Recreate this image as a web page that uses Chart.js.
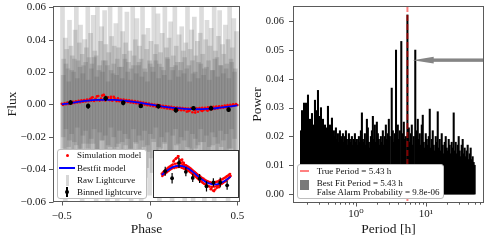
<!DOCTYPE html>
<html><head><meta charset="utf-8">
<script src="https://cdn.jsdelivr.net/npm/chart.js@4.4.1/dist/chart.umd.min.js"></script>
<style>
html,body{margin:0;padding:0;background:#fff;}
#wrap{position:relative;width:488px;height:242px;overflow:hidden;font-family:"Liberation Serif","DejaVu Serif",serif;color:#111;}
canvas{position:absolute;left:0;top:0;}
#boxL{position:absolute;left:0;top:0;width:245px;height:242px;}
#boxR{position:absolute;left:245px;top:0;width:243px;height:242px;}
#inset{position:absolute;left:153px;top:150px;width:84px;height:46px;border:1px solid #333;background:#fff;}
.legend{position:absolute;background:#fff;border:1px solid #bdbdbd;border-radius:3px;font-size:9px;line-height:10px;}
.mk{position:absolute;display:block;}
.tx{position:absolute;white-space:nowrap;}
</style></head>
<body>
<div id="wrap">
  <div id="boxL"><canvas id="cL" width="245" height="242"></canvas></div>
  <div id="boxR"><canvas id="cR" width="243" height="242"></canvas></div>
  <div id="inset"><canvas id="cI" width="84" height="46"></canvas></div>
  <div class="legend" style="left:57px;top:149px;width:88px;height:48px;">
    <span class="mk" style="left:7.5px;top:3.8px;width:3px;height:3px;border-radius:50%;background:#f00"></span>
    <span class="mk" style="left:1px;top:16.7px;width:16px;height:2px;background:#00f"></span>
    <span class="mk" style="left:7.5px;top:24.5px;width:3px;height:11px;background:#d6d6d6"></span>
    <span class="mk" style="left:8.4px;top:36.5px;width:1.3px;height:10px;background:#000"></span>
    <span class="mk" style="left:7px;top:39.7px;width:4px;height:4px;border-radius:50%;background:#000"></span>
    <span class="tx" style="left:19px;top:0.3px">Simulation model</span>
    <span class="tx" style="left:19px;top:12.7px">Bestfit model</span>
    <span class="tx" style="left:19px;top:25px">Raw Lightcurve</span>
    <span class="tx" style="left:19px;top:36.7px">Binned lightcurve</span>
  </div>
  <div class="legend" style="left:297px;top:164px;width:145px;height:33px;">
    <span class="mk" style="left:2px;top:5px;width:9px;height:2px;background:#ff8080"></span>
    <span class="mk" style="left:2px;top:15.3px;width:9px;height:10px;background:#7a7a7a"></span>
    <span class="tx" style="left:18.7px;top:1px">True Period = 5.43 h</span>
    <span class="tx" style="left:18.7px;top:12.7px">Best Fit Period = 5.43 h</span>
    <span class="tx" style="left:18.7px;top:21.7px">False Alarm Probability = 9.8e-06</span>
  </div>
</div>
<script>
// ---------------- data ----------------
const phaseTicks = [-0.5, 0, 0.5];
const phaseTickLabels = ['\u22120.5', '0', '0.5'];
const fluxTicks = [-0.06, -0.04, -0.02, 0, 0.02, 0.04, 0.06];
const fluxTickLabels = ['\u22120.06', '\u22120.04', '\u22120.02', '0.00', '0.02', '0.04', '0.06'];

// raw light curve: error-bar extents (low/high) per phase
const rawPhase = [
-0.496,-0.489,-0.480,-0.472,-0.465,-0.456,-0.448,-0.441,-0.432,-0.424,
-0.417,-0.408,-0.400,-0.393,-0.384,-0.376,-0.369,-0.360,-0.352,-0.345,
-0.336,-0.328,-0.321,-0.312,-0.304,-0.297,-0.288,-0.280,-0.273,-0.264,
-0.256,-0.249,-0.240,-0.232,-0.225,-0.216,-0.208,-0.201,-0.192,-0.184,
-0.177,-0.168,-0.160,-0.153,-0.144,-0.136,-0.129,-0.120,-0.112,-0.105,
-0.096,-0.088,-0.081,-0.072,-0.064,-0.057,-0.048,-0.040,-0.033,-0.024,
-0.016,-0.009,0.000,0.008,0.015,0.024,0.032,0.039,0.048,0.056,
0.063,0.072,0.080,0.087,0.096,0.104,0.111,0.120,0.128,0.135,
0.144,0.152,0.159,0.168,0.176,0.183,0.192,0.200,0.207,0.216,
0.224,0.231,0.240,0.248,0.255,0.264,0.272,0.279,0.288,0.296,
0.303,0.312,0.320,0.327,0.336,0.344,0.351,0.360,0.368,0.375,
0.384,0.392,0.399,0.408,0.416,0.423,0.432,0.440,0.447,0.456,
0.464,0.471,0.480,0.488,0.495];
const rawHigh = [
0.065,0.028,0.041,0.034,0.022,0.052,0.036,0.030,0.020,0.046,
0.065,0.027,0.038,0.049,0.031,0.024,0.040,0.035,0.063,0.029,
0.044,0.025,0.055,0.033,0.030,0.065,0.021,0.039,0.048,0.027,
0.058,0.037,0.024,0.032,0.065,0.042,0.019,0.036,0.050,0.028,
0.035,0.065,0.023,0.045,0.031,0.038,0.057,0.026,0.033,0.022,
0.062,0.030,0.040,0.053,0.024,0.036,0.028,0.065,0.043,0.020,
0.034,0.047,0.027,0.039,0.023,0.065,0.031,0.037,0.056,0.025,
0.032,0.044,0.021,0.065,0.035,0.028,0.041,0.051,0.023,0.030,
0.060,0.036,0.026,0.043,0.021,0.048,0.033,0.029,0.038,0.065,
0.024,0.034,0.046,0.019,0.054,0.030,0.039,0.026,0.044,0.065,
0.031,0.022,0.040,0.052,0.027,0.036,0.047,0.021,0.065,0.033,
0.029,0.042,0.058,0.024,0.037,0.031,0.049,0.025,0.040,0.063,
0.028,0.035,0.053,0.022,0.045];
const rawLow = [
-0.040,-0.027,-0.062,-0.034,-0.047,-0.022,-0.037,-0.058,-0.030,-0.043,
-0.025,-0.052,-0.033,-0.040,-0.065,-0.024,-0.045,-0.031,-0.027,-0.055,
-0.036,-0.048,-0.024,-0.041,-0.063,-0.029,-0.044,-0.034,-0.022,-0.050,
-0.038,-0.028,-0.060,-0.042,-0.026,-0.033,-0.049,-0.030,-0.039,-0.065,
-0.024,-0.045,-0.035,-0.031,-0.054,-0.025,-0.040,-0.047,-0.028,-0.062,
-0.032,-0.043,-0.023,-0.037,-0.051,-0.030,-0.065,-0.034,-0.026,-0.045,
-0.039,-0.029,-0.056,-0.033,-0.042,-0.023,-0.048,-0.036,-0.031,-0.061,
-0.027,-0.044,-0.038,-0.024,-0.052,-0.032,-0.041,-0.028,-0.065,-0.035,
-0.046,-0.025,-0.039,-0.031,-0.055,-0.029,-0.043,-0.060,-0.033,-0.026,
-0.049,-0.037,-0.030,-0.065,-0.040,-0.027,-0.045,-0.034,-0.023,-0.051,
-0.038,-0.062,-0.031,-0.043,-0.028,-0.047,-0.035,-0.025,-0.065,-0.041,
-0.030,-0.046,-0.036,-0.026,-0.057,-0.033,-0.042,-0.029,-0.063,-0.039,
-0.027,-0.050,-0.034,-0.044,-0.030];
// raw points with smaller errors (dense core of the cloud)
const rawCorePhase = [
-0.492,-0.476,-0.460,-0.444,-0.428,-0.412,-0.396,-0.380,-0.364,-0.348,
-0.332,-0.316,-0.300,-0.284,-0.268,-0.252,-0.236,-0.220,-0.204,-0.188,
-0.172,-0.156,-0.140,-0.124,-0.108,-0.092,-0.076,-0.060,-0.044,-0.028,
-0.012,0.004,0.020,0.036,0.052,0.068,0.084,0.100,0.116,0.132,
0.148,0.164,0.180,0.196,0.212,0.228,0.244,0.260,0.276,0.292,
0.308,0.324,0.340,0.356,0.372,0.388,0.404,0.420,0.436,0.452,
0.468,0.484];
const rawCoreHigh = [
0.018,0.025,0.014,0.021,0.028,0.016,0.023,0.019,0.026,0.015,
0.022,0.029,0.017,0.024,0.020,0.027,0.014,0.021,0.025,0.018,
0.023,0.016,0.028,0.020,0.015,0.024,0.019,0.026,0.017,0.022,
0.014,0.025,0.020,0.027,0.016,0.023,0.018,0.029,0.015,0.021,
0.024,0.017,0.026,0.019,0.022,0.014,0.027,0.020,0.016,0.025,
0.018,0.023,0.015,0.021,0.028,0.017,0.024,0.019,0.022,0.016,
0.026,0.020];
const rawCoreLow = [
-0.020,-0.015,-0.026,-0.018,-0.023,-0.014,-0.027,-0.019,-0.016,-0.024,
-0.021,-0.015,-0.028,-0.017,-0.022,-0.019,-0.025,-0.014,-0.020,-0.026,
-0.016,-0.023,-0.018,-0.021,-0.027,-0.015,-0.024,-0.019,-0.022,-0.016,
-0.025,-0.018,-0.021,-0.014,-0.026,-0.020,-0.023,-0.017,-0.028,-0.019,
-0.015,-0.024,-0.020,-0.022,-0.016,-0.027,-0.018,-0.021,-0.025,-0.015,
-0.023,-0.019,-0.026,-0.017,-0.020,-0.024,-0.016,-0.022,-0.018,-0.027,
-0.015,-0.021];

const simPhase = [
-0.500,-0.492,-0.484,-0.476,-0.468,-0.460,-0.452,-0.444,-0.436,-0.428,
-0.420,-0.412,-0.404,-0.396,-0.388,-0.380,-0.372,-0.364,-0.356,-0.348,
-0.340,-0.332,-0.324,-0.316,-0.308,-0.300,-0.292,-0.284,-0.276,-0.268,
-0.260,-0.252,-0.244,-0.236,-0.228,-0.220,-0.212,-0.204,-0.196,-0.188,
-0.180,-0.172,-0.164,-0.156,-0.148,-0.140,-0.132,-0.124,-0.116,-0.108,
-0.100,-0.092,-0.084,-0.076,-0.068,-0.060,-0.052,-0.044,-0.036,-0.028,
-0.020,-0.012,-0.004,0.004,0.012,0.020,0.028,0.036,0.044,0.052,
0.060,0.068,0.076,0.084,0.092,0.100,0.108,0.116,0.124,0.132,
0.140,0.148,0.156,0.164,0.172,0.180,0.188,0.196,0.204,0.212,
0.220,0.228,0.236,0.244,0.252,0.260,0.268,0.276,0.284,0.292,
0.300,0.308,0.316,0.324,0.332,0.340,0.348,0.356,0.364,0.372,
0.380,0.388,0.396,0.404,0.412,0.420,0.428,0.436,0.444,0.452,
0.460,0.468,0.476,0.484,0.492,0.500,
-0.330,-0.300,-0.270,-0.262,-0.220,-0.200,-0.180,0.220,0.260,0.300,0.330];
const simFlux = [
0.0004,-0.0003,0.0008,0.0001,0.0012,0.0003,0.0014,0.0006,0.0017,0.0009,
0.0020,0.0012,0.0023,0.0014,0.0026,0.0017,0.0028,0.0019,0.0030,0.0021,
0.0033,0.0024,0.0045,0.0022,0.0035,0.0026,0.0052,0.0024,0.0036,0.0027,
0.0058,0.0025,0.0037,0.0044,0.0026,0.0036,0.0023,0.0048,0.0031,0.0021,
0.0034,0.0020,0.0031,0.0018,0.0030,0.0017,0.0028,0.0015,0.0026,0.0013,
0.0023,0.0010,0.0021,0.0008,0.0018,0.0005,0.0015,0.0002,0.0012,-0.0001,
0.0009,-0.0004,0.0006,-0.0007,0.0003,-0.0010,0.0000,-0.0013,-0.0002,-0.0016,
-0.0005,-0.0019,-0.0008,-0.0022,-0.0010,-0.0025,-0.0012,-0.0027,-0.0015,-0.0029,
-0.0017,-0.0031,-0.0019,-0.0033,-0.0020,-0.0035,-0.0022,-0.0036,-0.0023,-0.0044,
-0.0025,-0.0037,-0.0024,-0.0048,-0.0023,-0.0036,-0.0024,-0.0045,-0.0022,-0.0035,
-0.0021,-0.0034,-0.0020,-0.0032,-0.0018,-0.0031,-0.0016,-0.0029,-0.0015,-0.0027,
-0.0013,-0.0025,-0.0011,-0.0022,-0.0009,-0.0020,-0.0007,-0.0017,-0.0004,-0.0014,
-0.0002,-0.0010,0.0001,-0.0007,0.0003,-0.0003,
0.0042,0.0050,0.0055,0.0060,0.0047,0.0040,0.0038,-0.0042,-0.0050,-0.0040,-0.0038];

const fitPhase = [-0.5,-0.45,-0.4,-0.35,-0.3,-0.25,-0.2,-0.15,-0.1,-0.05,0,0.05,0.1,0.15,0.2,0.25,0.3,0.35,0.4,0.45,0.5];
const fitFlux = [0.0000,0.0009,0.0017,0.0024,0.0028,0.0029,0.0028,0.0024,0.0018,0.0010,0.0001,-0.0008,-0.0016,-0.0023,-0.0027,-0.0029,-0.0029,-0.0026,-0.0020,-0.0013,-0.0005];

const binPhase = [-0.45,-0.35,-0.25,-0.15,-0.05,0.05,0.15,0.25,0.35,0.45];
const binFlux = [0.0012,-0.0010,0.0038,0.0010,-0.0009,-0.0011,-0.0035,-0.0023,-0.0023,-0.0032];
const binErr = [0.0014,0.0016,0.0016,0.0014,0.0013,0.0014,0.0016,0.0013,0.0015,0.0014];

const periods = [
0.164,0.1695,0.1751,0.181,0.187,0.1932,0.1997,0.2063,0.2132,0.2203,
0.2277,0.2353,0.2431,0.2512,0.2596,0.2683,0.2772,0.2865,0.296,0.3059,
0.3161,0.3267,0.3376,0.3488,0.3605,0.3725,0.3849,0.3978,0.411,0.4248,
0.4389,0.4536,0.4687,0.4843,0.5005,0.5172,0.5345,0.5523,0.5708,0.5898,
0.6095,0.6298,0.6508,0.6726,0.695,0.7182,0.7422,0.767,0.7926,0.819,
0.8464,0.8746,0.9038,0.934,0.9652,0.9974,1.031,1.065,1.101,1.137,
1.175,1.215,1.255,1.297,1.341,1.385,1.432,1.479,1.529,1.58,
1.632,1.687,1.743,1.801,1.861,1.923,1.988,2.054,2.123,2.193,
2.267,2.342,2.42,2.501,2.585,2.671,2.76,2.852,2.947,3.046,
3.24,3.30,3.361,3.473,3.589,3.73,3.832,3.96,4.092,4.229,
4.44,4.55,4.667,4.822,4.983,5.15,5.43,5.56,5.682,5.872,
6.068,6.27,6.48,6.696,7.03,7.2,7.389,7.635,7.89,8.153,
8.425,8.706,8.996,9.297,9.607,9.927,10.26,10.6,10.95,11.32,
11.7,12.09,12.49,12.91,13.34,13.78,14.24,14.72,15.21,15.72,
16.24,16.78,17.34,17.92,18.52,19.14,19.78,20.44,21.12,21.82,
22.55,23.3,24.08,24.88,25.71,26.57,27.46,28.37,29.32,30.3,
31.31,32.35,33.43,34.55,35.7,36.89,38.12,39.39,40.71,42.07,
43.47,44.92,46.42,47.97,49.57];
const powers = [
0.022,0.029,0.025,0.0316,0.024,0.0316,0.027,0.0344,0.023,0.026,
0.021,0.028,0.024,0.022,0.0326,0.025,0.029,0.036,0.027,0.024,
0.030,0.022,0.026,0.021,0.024,0.020,0.023,0.0305,0.021,0.024,
0.020,0.0264,0.019,0.022,0.020,0.023,0.019,0.021,0.018,0.022,
0.020,0.019,0.021,0.018,0.020,0.022,0.019,0.017,0.021,0.019,
0.018,0.020,0.017,0.019,0.021,0.018,0.019,0.017,0.020,0.018,
0.022,0.0282,0.019,0.018,0.021,0.017,0.026,0.023,0.018,0.016,
0.020,0.022,0.027,0.019,0.024,0.018,0.025,0.021,0.019,0.017,
0.020,0.018,0.022,0.017,0.020,0.024,0.019,0.021,0.026,0.020,
0.0368,0.019,0.022,0.018,0.021,0.050,0.020,0.024,0.019,0.022,
0.053,0.018,0.021,0.025,0.019,0.020,0.0622,0.019,0.023,0.018,
0.021,0.024,0.017,0.020,0.050,0.018,0.022,0.026,0.019,0.021,
0.017,0.024,0.0274,0.018,0.016,0.021,0.019,0.017,0.020,0.0295,
0.016,0.019,0.022,0.017,0.015,0.020,0.018,0.0286,0.016,0.019,
0.015,0.021,0.017,0.014,0.018,0.020,0.016,0.015,0.019,0.017,
0.014,0.018,0.016,0.0282,0.015,0.018,0.014,0.017,0.020,0.015,
0.013,0.017,0.019,0.014,0.016,0.013,0.015,0.017,0.012,0.014,
0.016,0.012,0.013,0.011,0.010];

const powerTicks = [0, 0.01, 0.02, 0.03, 0.04, 0.05, 0.06];
const powerTickLabels = ['0.00','0.01','0.02','0.03','0.04','0.05','0.06'];
const periodMajorTicks = [1, 10];
const periodMajorLabels = ['10\u2070', '10\u00b9'];
const periodMinorTicks = [0.2,0.3,0.4,0.5,0.6,0.7,0.8,0.9,2,3,4,5,6,7,8,9,20,30,40,50,60];
const truePeriod = 5.43;
const arrowTipPeriod = 6.46;
const arrowPower = 0.0465;

// ---------------- rendering ----------------
const FONT = '"Liberation Serif","DejaVu Serif",serif';
Chart.defaults.font.family = FONT;
Chart.defaults.color = '#1a1a1a';
Chart.defaults.animation = false;

const framePlugin = {
  id: 'frame',
  afterDraw(chart) {
    const {ctx, chartArea: a} = chart;
    ctx.save();
    ctx.strokeStyle = '#5a5a5a';
    ctx.lineWidth = 1;
    const L = Math.round(a.left) + 0.5, R = Math.round(a.right) - 0.5;
    const T = Math.round(a.top) + 0.5, B = Math.round(a.bottom) - 0.5;
    ctx.strokeRect(L, T, R - L, B - T);
    ctx.beginPath();
    const xs = chart.scales.x, ys = chart.scales.y;
    xs.ticks.forEach(t => {
      const p = Math.round(xs.getPixelForValue(t.value)) + 0.5;
      const len = t.minor ? 2.2 : 4;
      ctx.moveTo(p, B); ctx.lineTo(p, B + len);
    });
    ys.ticks.forEach(t => {
      const p = Math.round(ys.getPixelForValue(t.value)) + 0.5;
      ctx.moveTo(L, p); ctx.lineTo(L - 4.5, p);
    });
    ctx.stroke();
    ctx.restore();
  }
};

function errPlugin(width) {
  return {
    id: 'errbars',
    afterDatasetsDraw(chart) {
      const {ctx, chartArea: a} = chart; const xs = chart.scales.x, ys = chart.scales.y;
      ctx.save();
      ctx.beginPath();
      ctx.rect(a.left, a.top, a.right - a.left, a.bottom - a.top);
      ctx.clip();
      ctx.strokeStyle = '#000'; ctx.lineWidth = width;
      ctx.beginPath();
      binPhase.forEach((p, i) => {
        const x = xs.getPixelForValue(p);
        ctx.moveTo(x, ys.getPixelForValue(binFlux[i] - binErr[i]));
        ctx.lineTo(x, ys.getPixelForValue(binFlux[i] + binErr[i]));
      });
      ctx.stroke();
      ctx.restore();
    }
  };
}

const markerPlugin = {
  id: 'markers',
  afterDatasetsDraw(chart) {
    const {ctx, chartArea: a} = chart; const xs = chart.scales.x, ys = chart.scales.y;
    ctx.save();
    const xp = xs.getPixelForValue(truePeriod);
    ctx.strokeStyle = 'rgba(255,0,0,0.5)';
    ctx.lineWidth = 2;
    ctx.setLineDash([6, 3]);
    ctx.beginPath(); ctx.moveTo(xp, a.top); ctx.lineTo(xp, a.bottom); ctx.stroke();
    ctx.setLineDash([]);
    const y = ys.getPixelForValue(arrowPower);
    const xt = xs.getPixelForValue(arrowTipPeriod);
    ctx.fillStyle = '#858585';
    ctx.fillRect(xt + 16, y - 1.7, a.right - (xt + 16), 3.4);
    ctx.beginPath();
    ctx.moveTo(xt, y); ctx.lineTo(xt + 21, y - 3.4); ctx.lineTo(xt + 21, y + 3.4); ctx.closePath();
    ctx.fill();
    ctx.restore();
  }
};

const tickFont = {family: FONT, size: 11};
const titleFont = {family: FONT, size: 13.5};
const noPadX = s => { s.paddingLeft = 0; s.paddingRight = 0; };
const noPadY = s => { s.paddingTop = 0; s.paddingBottom = 0; };

const rawData = rawPhase.map((x, i) => ({x, y: [rawLow[i], rawHigh[i]]}))
  .concat(rawCorePhase.map((x, i) => ({x, y: [rawCoreLow[i], rawCoreHigh[i]]})));

// ---- left: phase-folded light curve ----
new Chart(document.getElementById('cL'), {
  type: 'scatter',
  data: {datasets: [
    {type: 'scatter', label: 'Binned lightcurve', data: binPhase.map((x, i) => ({x, y: binFlux[i]})),
     pointRadius: 2.3, pointBackgroundColor: '#000', pointBorderWidth: 0, order: 0},
    {type: 'line', label: 'Bestfit model', data: fitPhase.map((x, i) => ({x, y: fitFlux[i]})),
     borderColor: '#0000ff', borderWidth: 1.8, pointRadius: 0, tension: 0.4, fill: false, order: 1},
    {type: 'scatter', label: 'Simulation model', data: simPhase.map((x, i) => ({x, y: simFlux[i]})),
     pointRadius: 1.3, pointBackgroundColor: '#ff0000', pointBorderWidth: 0, order: 2},
    {type: 'bar', label: 'Raw Lightcurve', data: rawData,
     backgroundColor: 'rgba(80,80,80,0.2)', barThickness: 4, order: 3}
  ]},
  options: {
    responsive: false, devicePixelRatio: 1, animation: false,
    layout: {padding: {left: 0, top: 6, right: 5, bottom: 0}},
    plugins: {legend: {display: false}, tooltip: {enabled: false}},
    scales: {
      x: {type: 'linear', min: -0.55, max: 0.515, offset: false,
          grid: {display: false, drawTicks: false, offset: false}, border: {display: false},
          afterBuildTicks: s => { s.ticks = phaseTicks.map(v => ({value: v})); },
          ticks: {autoSkip: false, maxRotation: 0, padding: 8, font: tickFont,
                  callback: v => phaseTickLabels[phaseTicks.indexOf(v)]},
          title: {display: true, text: 'Phase', font: titleFont, color: '#1a1a1a', padding: {top: 0, bottom: 4}},
          afterFit: s => { s.height = 40; noPadX(s); }},
      y: {type: 'linear', min: -0.0602, max: 0.0608, stacked: false,
          grid: {display: false, drawTicks: false}, border: {display: false},
          afterBuildTicks: s => { s.ticks = fluxTicks.map(v => ({value: v})); },
          ticks: {autoSkip: false, padding: 7, font: tickFont,
                  callback: v => fluxTickLabels[fluxTicks.indexOf(v)]},
          title: {display: true, text: 'Flux', font: titleFont, color: '#1a1a1a', padding: {top: 4, bottom: 0}},
          afterFit: s => { s.width = 53; noPadY(s); }}
    }
  },
  plugins: [errPlugin(1.3), framePlugin]
});

// ---- inset: zoomed model ----
new Chart(document.getElementById('cI'), {
  type: 'scatter',
  data: {datasets: [
    {type: 'scatter', data: binPhase.map((x, i) => ({x, y: binFlux[i]})),
     pointRadius: 1.9, pointBackgroundColor: '#000', pointBorderWidth: 0, order: 0},
    {type: 'line', data: fitPhase.map((x, i) => ({x, y: fitFlux[i]})),
     borderColor: '#0000ff', borderWidth: 1.8, pointRadius: 0, tension: 0.4, fill: false, order: 1},
    {type: 'scatter', data: simPhase.map((x, i) => ({x, y: simFlux[i]})),
     pointRadius: 1.3, pointBackgroundColor: '#ff0000', pointBorderWidth: 0, order: 2}
  ]},
  options: {
    responsive: false, devicePixelRatio: 1, animation: false,
    layout: {padding: 0},
    plugins: {legend: {display: false}, tooltip: {enabled: false}},
    scales: {
      x: {type: 'linear', min: -0.555, max: 0.55, display: false},
      y: {type: 'linear', min: -0.0056, max: 0.00625, display: false}
    }
  },
  plugins: [errPlugin(1.2)]
});

// ---- right: periodogram ----
new Chart(document.getElementById('cR'), {
  type: 'bar',
  data: {datasets: [
    {type: 'bar', label: 'power', data: periods.map((x, i) => ({x, y: powers[i]})),
     backgroundColor: '#000', barThickness: 1.4}
  ]},
  options: {
    responsive: false, devicePixelRatio: 1, animation: false,
    layout: {padding: {left: 0, top: 6, right: 4, bottom: 0}},
    plugins: {legend: {display: false}, tooltip: {enabled: false}},
    scales: {
      x: {type: 'logarithmic', min: 0.126, max: 67.4, offset: false,
          grid: {display: false, drawTicks: false, offset: false}, border: {display: false},
          afterBuildTicks: s => {
            s.ticks = periodMinorTicks.map(v => ({value: v, minor: true}))
              .concat(periodMajorTicks.map(v => ({value: v, minor: false})))
              .sort((a, b) => a.value - b.value);
          },
          ticks: {autoSkip: false, maxRotation: 0, padding: 5, font: tickFont,
                  callback: v => { const i = periodMajorTicks.indexOf(v); return i >= 0 ? periodMajorLabels[i] : ''; }},
          title: {display: true, text: 'Period [h]', font: titleFont, color: '#1a1a1a', padding: {top: 0, bottom: 4}},
          afterFit: s => { s.height = 39; noPadX(s); }},
      y: {type: 'linear', min: -0.0031, max: 0.0653,
          grid: {display: false, drawTicks: false}, border: {display: false},
          afterBuildTicks: s => { s.ticks = powerTicks.map(v => ({value: v})); },
          ticks: {autoSkip: false, padding: 9, font: {family: FONT, size: 10.5},
                  callback: v => powerTickLabels[powerTicks.indexOf(v)]},
          title: {display: true, text: 'Power', font: titleFont, color: '#1a1a1a', padding: {top: 4, bottom: 0}},
          afterFit: s => { s.width = 48; noPadY(s); }}
    }
  },
  plugins: [markerPlugin, framePlugin]
});
</script>
</body></html>
